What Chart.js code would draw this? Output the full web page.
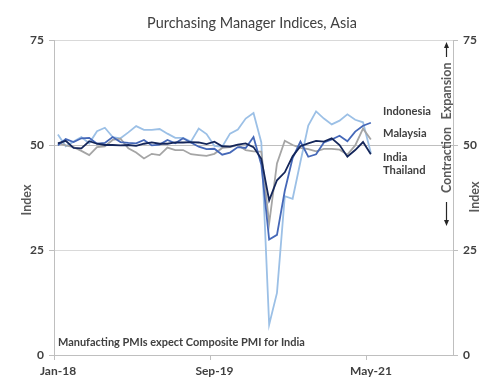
<!DOCTYPE html>
<html><head><meta charset="utf-8">
<script src="https://cdn.jsdelivr.net/npm/chart.js@4/dist/chart.umd.min.js"></script>
<style>html,body{margin:0;padding:0;background:#fff}#wrap{width:497px;height:390px;position:relative}</style>
</head><body><div id="wrap"><canvas id="c" width="497" height="390"></canvas></div>
<script>
// Months Jan-18 .. May-21
const months = ['Jan-18','Feb-18','Mar-18','Apr-18','May-18','Jun-18','Jul-18','Aug-18','Sep-18','Oct-18','Nov-18','Dec-18',
'Jan-19','Feb-19','Mar-19','Apr-19','May-19','Jun-19','Jul-19','Aug-19','Sep-19','Oct-19','Nov-19','Dec-19',
'Jan-20','Feb-20','Mar-20','Apr-20','May-20','Jun-20','Jul-20','Aug-20','Sep-20','Oct-20','Nov-20','Dec-20',
'Jan-21','Feb-21','Mar-21','Apr-21','May-21'];
const india = [52.5,49.7,50.8,51.9,50.4,53.3,54.1,51.9,51.6,53.0,54.5,53.6,
53.6,53.8,52.7,51.7,51.7,50.8,53.9,52.6,49.8,49.6,52.7,53.7,
56.3,57.6,50.6,7.2,14.8,37.8,37.2,46.0,54.6,58.0,56.3,54.9,
55.8,57.3,56.0,55.4,48.1];
const indonesia = [49.9,51.4,50.7,51.6,51.7,50.3,50.5,51.9,50.7,50.5,50.4,51.2,
49.9,50.1,51.2,50.4,51.6,50.6,49.6,49.0,49.1,47.7,48.2,49.5,
49.3,51.9,45.3,27.5,28.6,39.1,46.9,50.8,47.2,47.8,50.6,51.3,
52.2,50.9,53.2,54.6,55.3];
const malaysia = [50.5,49.9,49.5,48.6,47.6,49.5,49.7,51.2,51.5,49.2,48.2,46.8,
47.9,47.6,49.4,48.8,48.8,47.8,47.6,47.4,47.9,49.3,49.5,50.0,
48.8,48.5,48.4,31.3,45.6,51.0,50.0,49.3,49.0,48.5,49.1,49.1,
48.9,47.7,49.9,53.9,51.3];
const thailand = [50.4,51.0,49.3,49.2,50.9,50.3,50.0,50.0,49.9,50.0,49.8,50.3,
50.6,50.3,50.3,50.6,50.6,50.7,50.6,50.2,50.8,49.7,49.6,50.1,
50.4,49.5,46.7,36.8,41.6,43.5,47.3,49.7,50.4,51.0,50.8,51.6,
50.0,47.2,48.8,50.7,47.8];
const xTickLabels = ['Jan-18','Sep-19','May-21'];
const xTickMonths = [0,20,40];
const yTicks = [0,25,50,75];
const seriesNames = ['Indonesia','Malaysia','India','Thailand'];
const titleText = 'Purchasing Manager Indices, Asia';
const noteText = 'Manufacting PMIs expect Composite PMI for India';

const FONT = 'Lato';
const toXY = arr => arr.map((v,i)=>({x:i,y:v}));

function fitFont(ctx, text, width, weight){
  ctx.font = weight+' 20px '+FONT;
  const w = ctx.measureText(text).width;
  return weight+' '+(20*width/w).toFixed(2)+'px '+FONT;
}
function arrow(ctx,x,y1,y2){
  const dir = Math.sign(y2-y1);
  ctx.beginPath(); ctx.moveTo(x,y1); ctx.lineTo(x,y2-dir*4); ctx.stroke();
  ctx.beginPath(); ctx.moveTo(x,y2); ctx.lineTo(x-2.5,y2-dir*6); ctx.lineTo(x+2.5,y2-dir*6); ctx.closePath(); ctx.fill();
}
const annot = {
  id:'annot',
  afterDraw(chart){
    const ctx = chart.ctx;
    ctx.save();
    ctx.textBaseline = 'middle';
    // title
    ctx.fillStyle = '#404040';
    ctx.textAlign = 'center';
    ctx.font = fitFont(ctx,titleText,210,'normal');
    ctx.fillText(titleText,252,23);
    // end labels
    ctx.textAlign = 'left';
    const lf = fitFont(ctx,'Indonesia',48,'bold');
    ctx.font = lf;
    const ly = [111.7,133.3,157.3,170];
    seriesNames.forEach((n,i)=>ctx.fillText(n,383,ly[i]));
    // note
    ctx.font = fitFont(ctx,noteText,247,'bold');
    ctx.fillText(noteText,58,342);
    // vertical labels
    const vtext = (t,x,y,font,color)=>{
      ctx.save(); ctx.translate(x,y); ctx.rotate(-Math.PI/2);
      ctx.textAlign='center'; ctx.fillStyle=color;
      ctx.font = font; ctx.fillText(t,0,0); ctx.restore();
    };
    const vf = fitFont(ctx,'Contraction',66,'bold');
    vtext('Expansion',446.5,91,vf,'#595959');
    vtext('Contraction',446.5,160,vf,'#595959');
    vtext('Index',27,200,'bold 12.5px '+FONT,'#595959');
    vtext('Index',475,197,'bold 12.5px '+FONT,'#595959');
    ctx.strokeStyle='#262626'; ctx.fillStyle='#262626'; ctx.lineWidth=1.2;
    arrow(ctx,446.5,57,42);
    arrow(ctx,446.5,202,226);
    ctx.restore();
  }
};

const tickFont = {family:FONT, weight:'bold', size:12};
new Chart(document.getElementById('c'), {
  type:'line',
  data:{
    datasets:[
      {label:'Thailand', data:toXY(thailand), borderColor:'#14265a', borderWidth:1.8},
      {label:'Indonesia', data:toXY(indonesia), borderColor:'#4568b8', borderWidth:1.8},
      {label:'Malaysia', data:toXY(malaysia), borderColor:'#a5a5a5', borderWidth:1.8},
      {label:'India', data:toXY(india), borderColor:'#9cc0e6', borderWidth:1.8}
    ]
  },
  options:{
    responsive:false, animation:false,
    layout:{padding:{top:40,left:0,right:0,bottom:0}},
    elements:{point:{radius:0}, line:{tension:0}},
    plugins:{legend:{display:false}, tooltip:{enabled:false}},
    scales:{
      x:{type:'linear', min:-0.5, max:50.5,
        afterBuildTicks(s){ s.ticks = xTickMonths.map(m=>({value:m-0.5})); },
        afterFit(s){ s.height = 35; },
        ticks:{autoSkip:false, maxRotation:0, labelOffset:4, padding:4, color:'#404040', font:tickFont,
          callback:(v,i)=>xTickLabels[i]},
        grid:{drawOnChartArea:false, tickLength:5, color:'#bfbfbf'},
        border:{color:'#bfbfbf'}
      },
      y:{position:'left', min:0, max:75,
        afterBuildTicks(s){ s.ticks = yTicks.map(v=>({value:v})); },
        afterFit(s){ s.width = 54; },
        ticks:{padding:5, color:'#404040', font:tickFont},
        grid:{color:(c)=>c.tick && c.tick.value===50 ? '#bfbfbf' : '#d9d9d9', tickColor:'#bfbfbf', tickLength:5},
        border:{color:'#bfbfbf'}
      },
      y2:{position:'right', min:0, max:75,
        afterBuildTicks(s){ s.ticks = yTicks.map(v=>({value:v})); },
        afterFit(s){ s.width = 44; },
        ticks:{padding:5, color:'#404040', font:tickFont},
        grid:{drawOnChartArea:false, color:'#bfbfbf', tickLength:5},
        border:{color:'#bfbfbf'}
      }
    }
  },
  plugins:[annot]
});
</script></body></html>
